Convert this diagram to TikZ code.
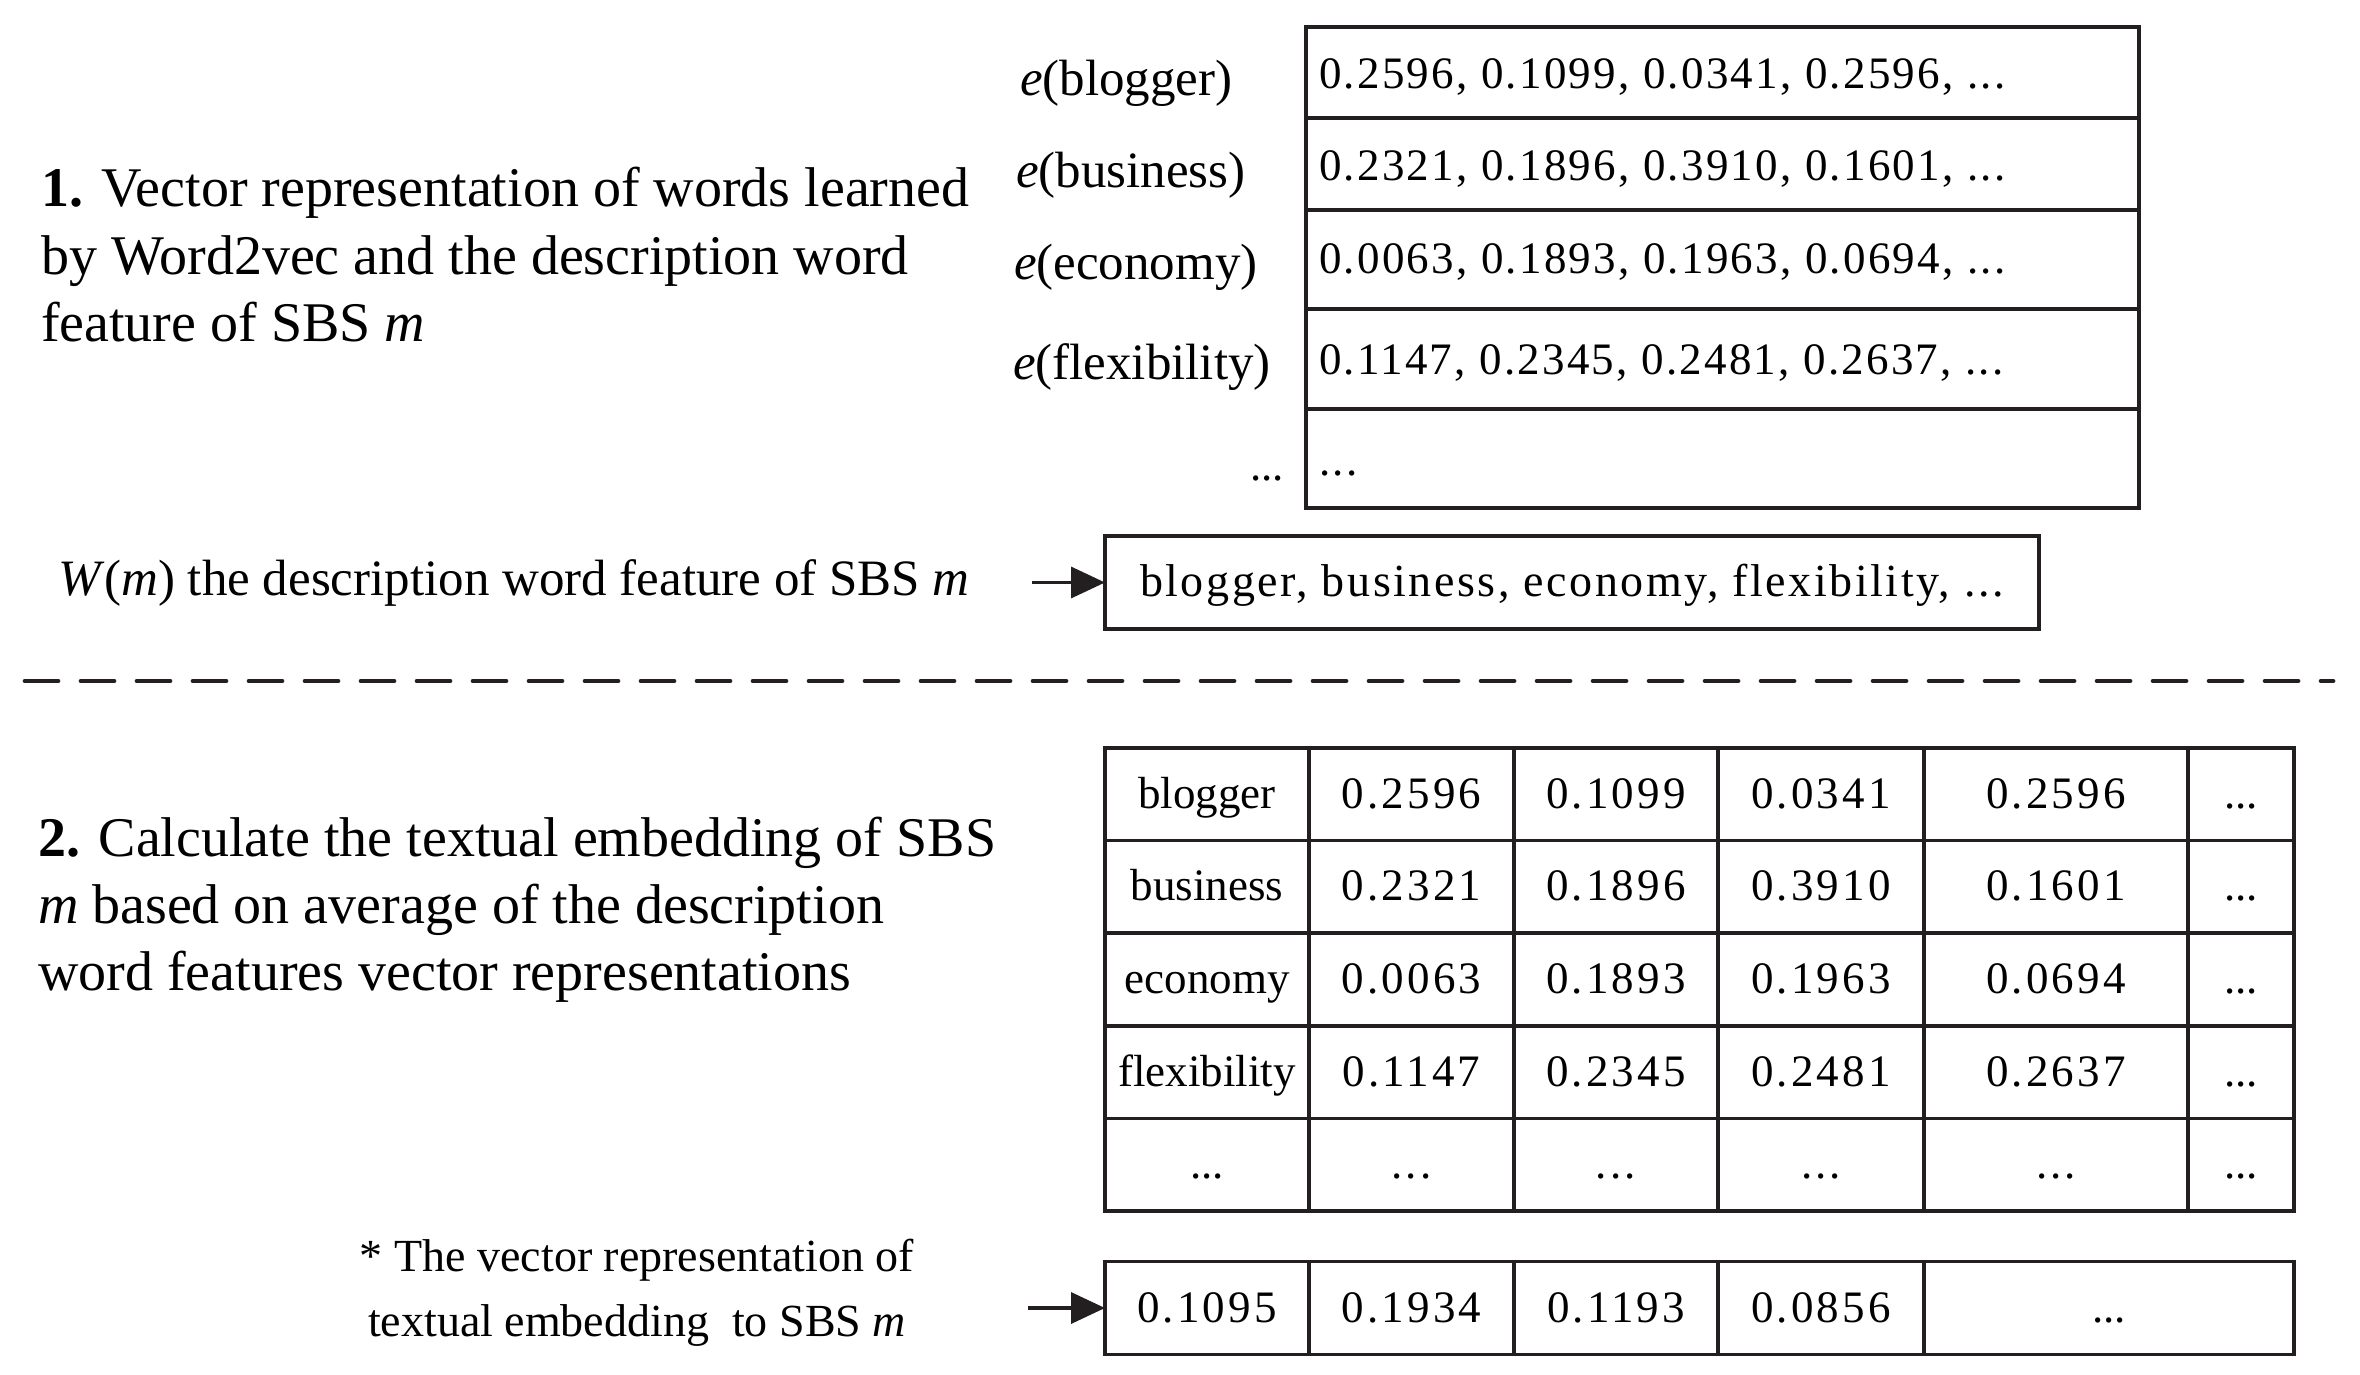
\documentclass[tikz,border=0pt]{standalone}
\usepackage{fontspec}
\setmainfont{Liberation Serif}
\usetikzlibrary{arrows.meta}
\definecolor{ink}{RGB}{35,31,32}
\newcommand\dts{...}
\newcommand\secfont{\fontsize{56pt}{67pt}\selectfont}
\newcommand\labfont{\fontsize{51pt}{60pt}\selectfont}
\newcommand\vecfont{\fontsize{45pt}{54pt}\selectfont\addfontfeature{LetterSpace=5}}
\newcommand\numfont{\fontsize{45pt}{54pt}\selectfont\addfontfeature{LetterSpace=7}}
\newcommand\wrdfont{\fontsize{45pt}{54pt}\selectfont}
\begin{document}
\begin{tikzpicture}[x=1pt,y=-1pt,
  lw/.style={line width=3.5pt},
  cellbox/.style={draw=ink, lw, inner sep=0pt, outer sep=0pt},
  bcell/.style={cellbox, minimum height=92.6pt, text height=34pt, text depth=6pt},
  txt/.style={anchor=base west, inner sep=0pt, outer sep=0pt},
  sectxt/.style={txt, font=\secfont},
  labtxt/.style={txt, font=\labfont},
  vectxt/.style={txt, font=\vecfont},
  arr/.style={draw=ink, lw, -{Triangle[length=34pt,width=31pt,fill=ink]}},
  sepline/.style={draw=ink, line width=4.7pt, line cap=round, dash pattern=on 33pt off 23pt}
]
\useasboundingbox (0,0) rectangle (2360,1375);

% ---------- Section 1 ----------
\node[sectxt] (s1a) at (41,207) {\textbf{1.} Vector representation of words learned};
\node[sectxt] (s1b) at (41,274) {by Word2vec and the description word};
\node[sectxt] (s1c) at (41,341) {feature of SBS \textit{m}};

% labels
\node[labtxt] (l1) at (1020,96) {\textit{e}(blogger)};
\node[labtxt] (l2) at (1016,188) {\textit{e}(business)};
\node[labtxt] (l3) at (1014,279) {\textit{e}(economy)};
\node[labtxt] (l4) at (1013,379) {\textit{e}(flexibility)};
\node[txt, font=\wrdfont] (l5) at (1250,480) {\dts};

% top vector table
\node[cellbox, minimum width=833pt, minimum height=91pt] (t1) at (1722.5,72.5) {};
\node[cellbox, minimum width=833pt, minimum height=92pt] (t2) at (1722.5,164) {};
\node[cellbox, minimum width=833pt, minimum height=99pt] (t3) at (1722.5,259.5) {};
\node[cellbox, minimum width=833pt, minimum height=100pt] (t4) at (1722.5,359) {};
\node[cellbox, minimum width=833pt, minimum height=99pt] (t5) at (1722.5,458.5) {};
\node[vectxt] (v1) at (1319,89) {0.2596, 0.1099, 0.0341, 0.2596, \dts};
\node[vectxt] (v2) at (1319,181) {0.2321, 0.1896, 0.3910, 0.1601, \dts};
\node[vectxt] (v3) at (1319,273) {0.0063, 0.1893, 0.1963, 0.0694, \dts};
\node[vectxt] (v4) at (1319,374) {0.1147, 0.2345, 0.2481, 0.2637, \dts};
\node[vectxt] (v5) at (1319,475) {\dts};

% W(m)
\node[labtxt] (wm) at (58,595) {\textit{W}(\textit{m}) the description word feature of SBS \textit{m}};
\node[cellbox, minimum width=934pt, minimum height=93pt, text height=34pt, text depth=7pt,
      font=\fontsize{46pt}{55pt}\selectfont\addfontfeature{LetterSpace=5.5}] (wbox) at (1572,582.5)
      {blogger, business, economy, flexibility, \dts};
\coordinate (a1) at (1032,582.5);
\draw[arr] (a1) -- (wbox.west);

% separator
\coordinate (d1) at (25,681);
\coordinate (d2) at (2333,681);
\draw[sepline] (d1) -- (d2);

% ---------- Section 2 ----------
\node[sectxt] (s2a) at (38,856) {\textbf{2.} Calculate the textual embedding of SBS};
\node[sectxt] (s2b) at (38,923) {\textit{m} based on average of the description};
\node[sectxt] (s2c) at (38,990) {word features vector representations};

% bottom table
\foreach \y/\n/\a/\b/\c/\d/\e in {
  794.3/1/blogger/0.2596/0.1099/0.0341/0.2596,
  886.9/2/business/0.2321/0.1896/0.3910/0.1601,
  979.5/3/economy/0.0063/0.1893/0.1963/0.0694,
  1072.1/4/flexibility/0.1147/0.2345/0.2481/0.2637,
  1164.7/5/\dts/\dts/\dts/\dts/\dts}
{
  \node[bcell, minimum width=204pt, font=\wrdfont] (b\n-1) at (1207,\y) {\a};
  \node[bcell, minimum width=205pt, font=\numfont] (b\n-2) at (1411.5,\y) {\b};
  \node[bcell, minimum width=204pt, font=\numfont] (b\n-3) at (1616,\y) {\c};
  \node[bcell, minimum width=206pt, font=\numfont] (b\n-4) at (1821,\y) {\d};
  \node[bcell, minimum width=264pt, font=\numfont] (b\n-5) at (2056,\y) {\e};
  \node[bcell, minimum width=106pt, font=\wrdfont] (b\n-6) at (2241,\y) {\dts};
}

% result row
\node[bcell, minimum width=204pt, font=\numfont] (e1) at (1207,1308) {0.1095};
\node[bcell, minimum width=205pt, font=\numfont] (e2) at (1411.5,1308) {0.1934};
\node[bcell, minimum width=204pt, font=\numfont] (e3) at (1616,1308) {0.1193};
\node[bcell, minimum width=206pt, font=\numfont] (e4) at (1821,1308) {0.0856};
\node[bcell, minimum width=370pt, font=\wrdfont] (e5) at (2109,1308) {\dts};

\node[txt, anchor=base, font=\fontsize{46pt}{55pt}\selectfont] (n1) at (637,1271) {* The vector representation of};
\node[txt, anchor=base, font=\fontsize{46pt}{55pt}\selectfont] (n2) at (637,1336) {textual embedding\ \ to SBS \textit{m}};
\coordinate (a2) at (1028,1308);
\draw[arr] (a2) -- (e1.west);
\end{tikzpicture}
\end{document}
